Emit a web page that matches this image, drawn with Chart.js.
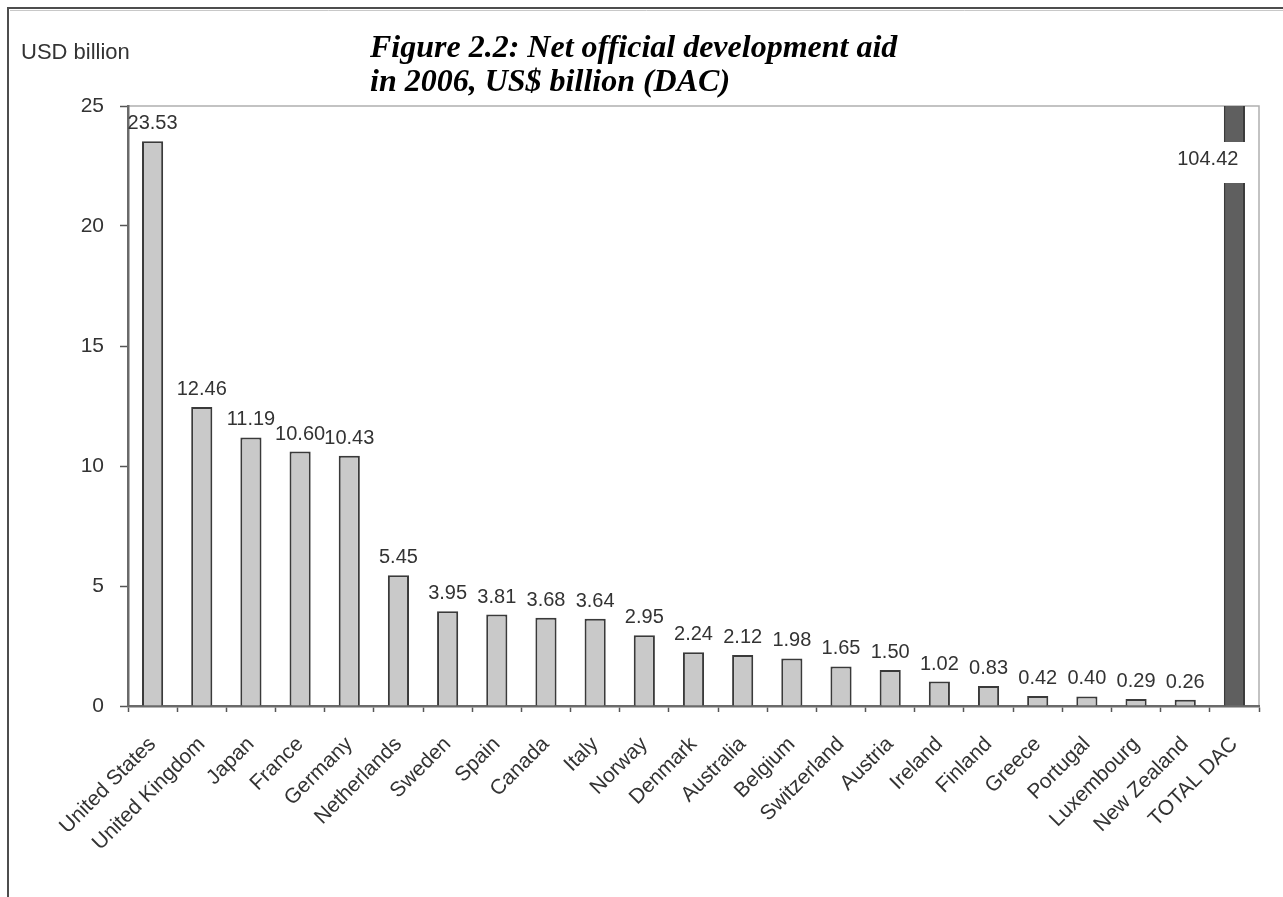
<!DOCTYPE html>
<html>
<head>
<meta charset="utf-8">
<script src="https://cdn.jsdelivr.net/npm/chart.js@4/dist/chart.umd.min.js"></script>
<style>
  html, body { margin: 0; padding: 0; background: #fff; }
  #wrap { position: relative; width: 1283px; height: 897px; }
</style>
</head>
<body>
<div id="wrap"><canvas id="c" width="1283" height="897"></canvas></div>
<script>
// Net official development aid 2006, US$ billion
const countries = ['United States', 'United Kingdom', 'Japan', 'France', 'Germany', 'Netherlands',
  'Sweden', 'Spain', 'Canada', 'Italy', 'Norway', 'Denmark', 'Australia', 'Belgium',
  'Switzerland', 'Austria', 'Ireland', 'Finland', 'Greece', 'Portugal', 'Luxembourg',
  'New Zealand', 'TOTAL DAC'];
const aidValues = [23.53, 12.46, 11.19, 10.60, 10.43, 5.45, 3.95, 3.81, 3.68, 3.64, 2.95,
  2.24, 2.12, 1.98, 1.65, 1.50, 1.02, 0.83, 0.42, 0.40, 0.29, 0.26, 104.42];
const yTicks = [0, 5, 10, 15, 20, 25];
const titleLines = ['Figure 2.2: Net official development aid', 'in 2006, US$ billion (DAC)'];
const unitLabel = 'USD billion';

const barFill = aidValues.map((v, i) => countries[i] === 'TOTAL DAC' ? '#5f5f5f' : '#c9c9c9');

const SANS = '"Liberation Sans", Arial, sans-serif';

// Frame, heading and unit label
const decorations = {
  id: 'decorations',
  beforeDraw(chart) {
    const ctx = chart.ctx;
    ctx.save();
    ctx.fillStyle = '#fff';
    ctx.fillRect(0, 0, chart.width, chart.height);
    ctx.strokeStyle = '#4d4d4d';
    ctx.lineWidth = 2;
    ctx.beginPath();
    ctx.moveTo(8, chart.height);
    ctx.lineTo(8, 8);
    ctx.lineTo(chart.width, 8);
    ctx.stroke();
    ctx.strokeStyle = '#c8c8c8';
    ctx.lineWidth = 1;
    ctx.beginPath();
    ctx.moveTo(10, 10.5);
    ctx.lineTo(chart.width, 10.5);
    ctx.stroke();

    ctx.fillStyle = '#000';
    ctx.font = 'italic bold 32px "Liberation Serif", "Times New Roman", serif';
    ctx.textAlign = 'left';
    ctx.textBaseline = 'alphabetic';
    ctx.fillText(titleLines[0], 370, 57);
    ctx.fillText(titleLines[1], 370, 91);

    ctx.fillStyle = '#333';
    ctx.font = '22px ' + SANS;
    ctx.fillText(unitLabel, 21, 59);

    // light frame on top and right of plot area
    const a = chart.chartArea;
    ctx.strokeStyle = '#b0b0b0';
    ctx.lineWidth = 1.5;
    ctx.beginPath();
    ctx.moveTo(a.left, a.top);
    ctx.lineTo(a.right, a.top);
    ctx.lineTo(a.right, a.bottom);
    ctx.stroke();
    ctx.restore();
  }
};

// Value labels above the bars; a bar taller than the axis gets its label in a gap
const valueLabels = {
  id: 'valueLabels',
  afterDatasetsDraw(chart) {
    const ctx = chart.ctx;
    const meta = chart.getDatasetMeta(0);
    const yScale = chart.scales.y;
    const a = chart.chartArea;
    ctx.save();
    ctx.font = '20px ' + SANS;
    ctx.fillStyle = '#333';
    meta.data.forEach((bar, i) => {
      const v = aidValues[i];
      const txt = v.toFixed(2);
      if (v > yScale.max) {
        ctx.fillStyle = '#fff';
        ctx.fillRect(bar.x - bar.width / 2 - 3, a.top + 36, bar.width + 6, 41);
        ctx.fillStyle = '#333';
        ctx.textAlign = 'right';
        ctx.textBaseline = 'middle';
        ctx.fillText(txt, bar.x + 4, a.top + 53);
      } else {
        ctx.textAlign = 'center';
        ctx.textBaseline = 'alphabetic';
        ctx.fillText(txt, bar.x, bar.y - 12);
      }
    });
    ctx.restore();
  }
};

new Chart(document.getElementById('c'), {
  type: 'bar',
  data: {
    labels: countries,
    datasets: [{
      data: aidValues,
      backgroundColor: barFill,
      borderColor: '#3a3a3a',
      borderWidth: 2,
      borderSkipped: 'bottom',
      categoryPercentage: 1,
      barPercentage: 0.43
    }]
  },
  options: {
    responsive: false,
    animation: false,
    events: [],
    layout: { padding: { top: 106, right: 24, left: 0, bottom: 0 } },
    plugins: { legend: { display: false }, tooltip: { enabled: false }, title: { display: false } },
    scales: {
      x: {
        offset: true,
        grid: { offset: true, drawOnChartArea: false, drawTicks: true, tickLength: 6, color: '#555', tickWidth: 1.5 },
        border: { color: '#6a6a6a', width: 2.5 },
        ticks: {
          autoSkip: false, minRotation: 45, maxRotation: 45, color: '#333', padding: 20,
          font: { family: SANS, size: 21 }
        },
        afterFit(s) { s.height = 191; }
      },
      y: {
        min: 0, max: 25,
        afterBuildTicks(s) { s.ticks = yTicks.map(v => ({ value: v })); },
        grid: { drawOnChartArea: false, drawTicks: true, tickLength: 8, color: '#555', tickWidth: 1.5 },
        border: { color: '#6a6a6a', width: 2.5 },
        ticks: { color: '#333', padding: 16, font: { family: SANS, size: 21 } },
        afterFit(s) { s.width = 128; }
      }
    }
  },
  plugins: [decorations, valueLabels]
});
</script>
</body>
</html>
